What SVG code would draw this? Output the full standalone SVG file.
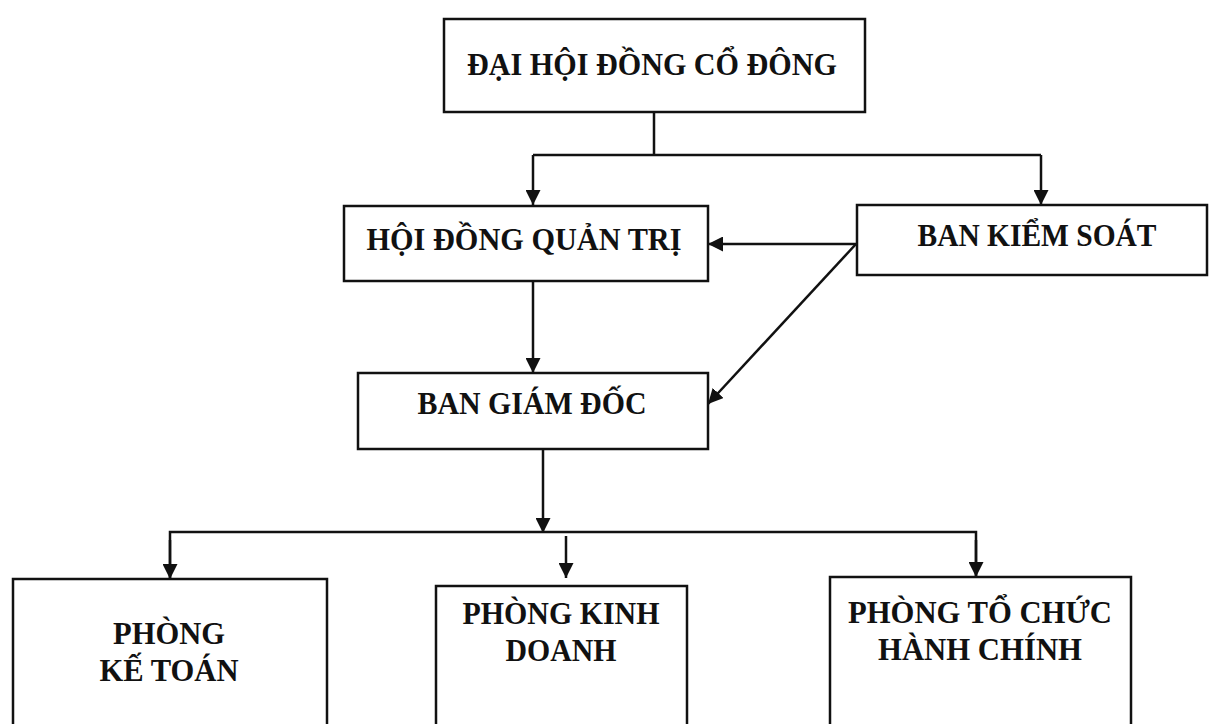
<svg xmlns="http://www.w3.org/2000/svg" width="1209" height="724" viewBox="0 0 1209 724">
<style>
.box{fill:#fff;stroke:#111;stroke-width:2.5}
.lbl{font-family:"Liberation Serif","Times New Roman",serif;font-weight:bold;font-size:32px;fill:#111;text-anchor:middle}
.ln{fill:none;stroke:#111;stroke-width:2.5}
.arr{fill:none;stroke:#111;stroke-width:2.5;marker-end:url(#ah)}
</style>
<defs>
<marker id="ah" viewBox="0 0 15 15" refX="15" refY="7.5" markerWidth="15" markerHeight="15" markerUnits="userSpaceOnUse" orient="auto">
<path d="M0,0 L15,7.5 L0,15 Z" fill="#111"/>
</marker>
</defs>
<rect width="1209" height="724" fill="#fff"/>
<g id="connectors">
<path class="ln" d="M654,112 V155 M533,155 H1041"/>
<path class="arr" d="M533,155 V205"/>
<path class="arr" d="M1041,155 V205"/>
<path class="arr" d="M856,244 H708"/>
<path class="arr" d="M856,244 L708,404"/>
<path class="arr" d="M533,281 V373"/>
<path class="arr" d="M543,449 V533"/>
<path class="ln" d="M170,579 V532 H976 V577"/>
<path class="arr" d="M170,540 V579"/>
<path class="arr" d="M976,540 V577"/>
<path class="arr" d="M566,536 V578"/>
</g>
<g id="n-dhdcd">
<rect class="box" x="444" y="19" width="421" height="93"/>
<text class="lbl" x="652" y="75" textLength="370" lengthAdjust="spacingAndGlyphs">ĐẠI HỘI ĐỒNG CỔ ĐÔNG</text>
</g>
<g id="n-hdqt">
<rect class="box" x="344" y="206" width="364" height="75"/>
<text class="lbl" x="524" y="250" textLength="315" lengthAdjust="spacingAndGlyphs">HỘI ĐỒNG QUẢN TRỊ</text>
</g>
<g id="n-bks">
<rect class="box" x="857" y="205" width="350" height="70"/>
<text class="lbl" x="1037" y="246" textLength="239" lengthAdjust="spacingAndGlyphs">BAN KIỂM SOÁT</text>
</g>
<g id="n-bgd">
<rect class="box" x="358" y="373" width="350" height="76"/>
<text class="lbl" x="532" y="414" textLength="229" lengthAdjust="spacingAndGlyphs">BAN GIÁM ĐỐC</text>
</g>
<g id="n-kt">
<rect class="box" x="13" y="579" width="314" height="160"/>
<text class="lbl" x="169" y="644" textLength="112" lengthAdjust="spacingAndGlyphs">PHÒNG</text>
<text class="lbl" x="169" y="681" textLength="139" lengthAdjust="spacingAndGlyphs">KẾ TOÁN</text>
</g>
<g id="n-kd">
<rect class="box" x="436" y="586" width="251" height="160"/>
<text class="lbl" x="561" y="624" textLength="197" lengthAdjust="spacingAndGlyphs">PHÒNG KINH</text>
<text class="lbl" x="561" y="661" textLength="111" lengthAdjust="spacingAndGlyphs">DOANH</text>
</g>
<g id="n-tc">
<rect class="box" x="830" y="577" width="301" height="160"/>
<text class="lbl" x="980" y="623" textLength="264" lengthAdjust="spacingAndGlyphs">PHÒNG TỔ CHỨC</text>
<text class="lbl" x="980" y="660" textLength="204" lengthAdjust="spacingAndGlyphs">HÀNH CHÍNH</text>
</g>
</svg>
